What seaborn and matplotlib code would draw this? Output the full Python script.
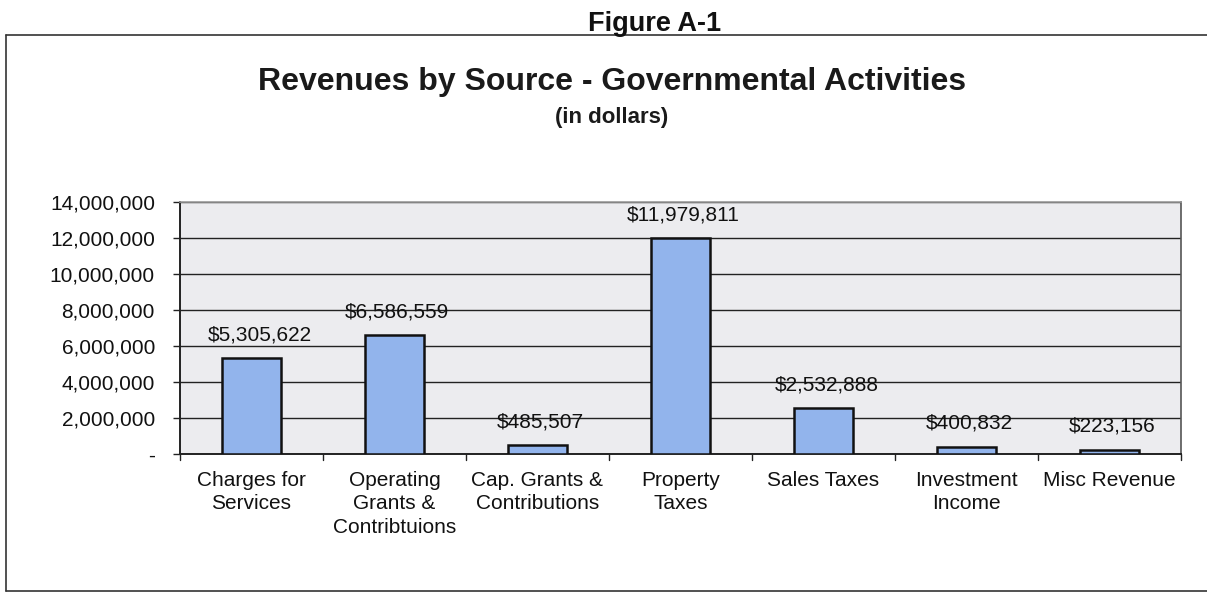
import matplotlib
matplotlib.use("Agg")
import matplotlib.pyplot as plt
import seaborn as sns
import pandas as pd
from matplotlib.ticker import FuncFormatter, FixedLocator
from matplotlib.lines import Line2D

# Revenue sources and amounts (dollars)
categories = [
    "Charges for\nServices",
    "Operating\nGrants &\nContribtuions",
    "Cap. Grants &\nContributions",
    "Property\nTaxes",
    "Sales Taxes",
    "Investment\nIncome",
    "Misc Revenue",
]
revenues = [5305622, 6586559, 485507, 11979811, 2532888, 400832, 223156]
y_ticks = [0, 2000000, 4000000, 6000000, 8000000, 10000000, 12000000, 14000000]

df = pd.DataFrame({"source": categories, "revenue": revenues})

sns.set_theme(style="white")
plt.rcParams["font.family"] = ["Liberation Sans", "DejaVu Sans"]

fig = plt.figure(figsize=(12.07, 5.93), dpi=100)
ax = fig.add_axes([0.1491, 0.2344, 0.8294, 0.4250])
ax.set_facecolor("#ECECEF")

sns.barplot(data=df, x="source", y="revenue", ax=ax, color="#92B4EC",
            saturation=1, width=0.41, edgecolor="#111111", linewidth=1.8,
            zorder=3)

ax.set_ylim(0, 14000000)
ax.set_xlim(-0.5, len(categories) - 0.5)
ax.yaxis.set_major_locator(FixedLocator(y_ticks))
ax.yaxis.set_major_formatter(
    FuncFormatter(lambda v, p: "-" if v == 0 else f"{v:,.0f}"))
ax.yaxis.grid(True, color="#222222", linewidth=1.0, zorder=1)
ax.set_axisbelow(True)

# category boundary ticks on the x axis
ax.set_xticks(range(len(categories)))
ax.set_xticklabels(categories, fontsize=15, color="#111111", linespacing=1.3)
ax.tick_params(axis="x", length=0, pad=12)
for b in [i - 0.5 for i in range(len(categories) + 1)]:
    ax.plot([b, b], [0, -0.022], transform=ax.get_xaxis_transform(),
            color="#222222", linewidth=1.0, clip_on=False)
ax.tick_params(axis="y", length=5, width=1.0, color="#222222", direction="out",
               labelsize=15, labelcolor="#111111", pad=13, left=True)

for side in ["left", "bottom"]:
    ax.spines[side].set_color("#222222")
    ax.spines[side].set_linewidth(1.4)
ax.spines["top"].set_color("#9A9A9A")
ax.spines["top"].set_linewidth(1.2)
ax.spines["right"].set_color("#555555")
ax.spines["right"].set_linewidth(1.2)
ax.set_xlabel("")
ax.set_ylabel("")

# value labels above each bar
for i, v in enumerate(revenues):
    ax.annotate(f"${v:,.0f}", xy=(i, v), xytext=(6 if i == 0 else 2, 17),
                textcoords="offset points", ha="center", va="center",
                fontsize=15, color="#111111")

# titles
fig.text(0.5425, 0.960, "Figure A-1", ha="center", va="center",
         fontsize=19.5, fontweight="bold", color="#111111")
fig.text(0.507, 0.862, "Revenues by Source - Governmental Activities",
         ha="center", va="center", fontsize=23, fontweight="bold",
         color="#1a1a1a")
fig.text(0.507, 0.802, "(in dollars)", ha="center", va="center",
         fontsize=16, fontweight="bold", color="#1a1a1a")

# outer frame
frame_kw = dict(transform=fig.transFigure, color="#333333", linewidth=1.2)
fig.add_artist(Line2D([0.005, 1.0], [0.941, 0.941], **frame_kw))
fig.add_artist(Line2D([0.005, 1.0], [0.003, 0.003], **frame_kw))
fig.add_artist(Line2D([0.005, 0.005], [0.003, 0.941], **frame_kw))

fig.savefig("out.png", dpi=100)
